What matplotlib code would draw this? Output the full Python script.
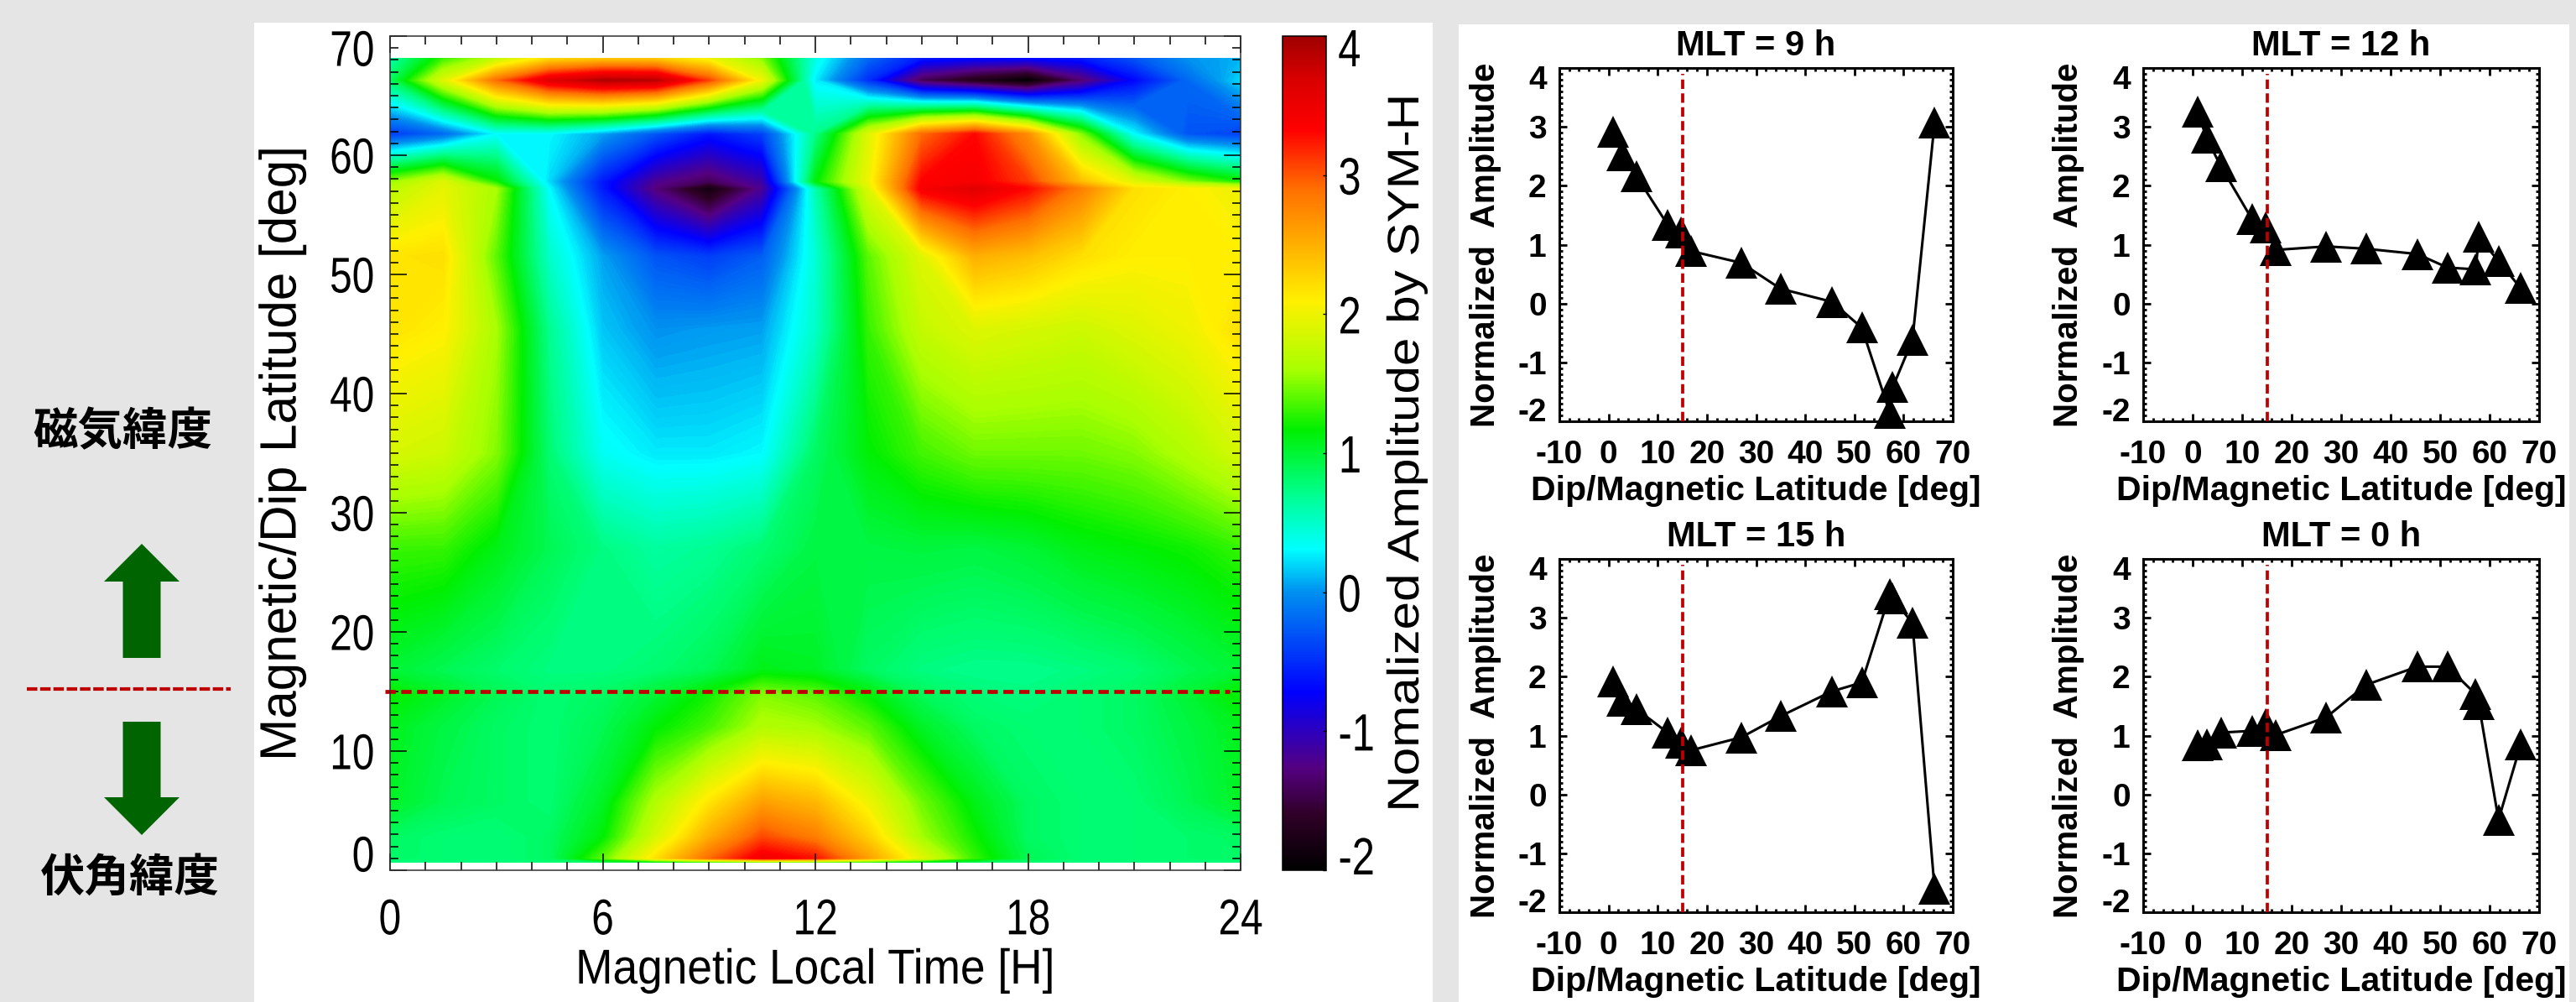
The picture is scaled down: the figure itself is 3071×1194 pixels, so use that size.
import numpy as np
from matplotlib import pyplot as plt
from matplotlib.cm import ScalarMappable
from matplotlib.colors import LinearSegmentedColormap, Normalize
from matplotlib.patches import Polygon, Rectangle
from matplotlib.patheffects import AbstractPathEffect
from matplotlib.transforms import Affine2D, ScaledTranslation

plt.rcParams['axes.unicode_minus'] = False

W, H = 3071, 1194

# station latitudes, same for the heat map rows and the four line panels
lat = [1.0, 2.8, 5.7, 12.0, 14.8, 16.8, 27.0, 35.0, 45.4, 51.5, 57.2, 57.8, 61.8, 66.3]

amp_9 = [2.91, 2.52, 2.16, 1.34, 1.21, 0.89, 0.69, 0.25, 0.03, -0.41, -1.86, -1.42, -0.62, 3.07]
amp_12 = [3.26, 2.81, 2.33, 1.43, 1.29, 0.91, 0.97, 0.93, 0.84, 0.61, 0.58, 1.13, 0.72, 0.26]
amp_15 = [1.92, 1.59, 1.45, 1.05, 0.88, 0.75, 0.97, 1.33, 1.75, 1.90, 3.40, 3.33, 2.91, -1.60]
amp_0 = [0.84, 0.85, 1.05, 1.08, 1.19, 1.01, 1.31, 1.86, 2.17, 2.17, 1.70, 1.54, -0.43, 0.85]

# heat map table, rows from south to north
mlt = [0, 1.5, 3, 4.5, 6, 7.5, 9, 10.5, 12, 13.5, 15, 16.5, 18, 19.5, 21, 22.5, 24]
map_lat = [0.65] + lat + [68.15]
row_065 = [0.75, 0.75, 0.75, 0.78, 0.85, 1.0, 1.1, 1.2, 1.2, 1.1, 1.0, 0.85, 0.78, 0.75, 0.75, 0.75, 0.75]
row_010 = [0.84, 0.80, 0.78, 0.85, 1.40, 2.20, 2.91, 3.45, 3.26, 2.60, 1.92, 1.30, 0.90, 0.80, 0.80, 0.82, 0.84]
row_028 = [0.85, 0.80, 0.78, 0.85, 1.15, 1.85, 2.52, 3.05, 2.81, 2.30, 1.59, 1.20, 0.85, 0.80, 0.80, 0.82, 0.85]
row_057 = [1.05, 0.90, 0.85, 0.80, 1.05, 1.65, 2.16, 2.60, 2.45, 2.00, 1.45, 1.10, 0.85, 0.80, 0.80, 0.90, 1.05]
row_120 = [1.08, 0.95, 0.85, 0.80, 0.90, 1.15, 1.34, 1.65, 1.60, 1.40, 1.05, 0.85, 0.80, 0.80, 0.85, 0.95, 1.08]
row_148 = [1.19, 1.05, 0.90, 0.80, 0.85, 1.00, 1.21, 1.50, 1.40, 1.15, 0.88, 0.78, 0.75, 0.80, 0.85, 1.00, 1.20]
row_168 = [1.00, 0.90, 0.82, 0.75, 0.75, 0.80, 0.89, 1.10, 1.05, 0.85, 0.75, 0.72, 0.72, 0.75, 0.80, 0.90, 1.00]
row_270 = [1.31, 1.30, 1.10, 0.90, 0.75, 0.65, 0.69, 0.80, 0.95, 0.95, 0.97, 0.95, 1.00, 1.10, 1.15, 1.20, 1.30]
row_350 = [1.86, 1.80, 1.50, 0.80, 0.35, 0.25, 0.25, 0.30, 0.85, 1.15, 1.33, 1.45, 1.45, 1.45, 1.50, 1.65, 1.85]
row_454 = [2.17, 2.10, 1.60, 0.70, 0.15, 0.00, 0.03, 0.05, 0.50, 1.30, 1.75, 1.90, 1.85, 1.80, 1.90, 2.00, 2.20]
row_515 = [2.17, 2.20, 1.40, 0.50, 0.05, -0.30, -0.41, -0.25, 0.45, 1.40, 1.90, 2.50, 2.40, 2.20, 2.10, 2.10, 2.10]
row_572 = [1.70, 1.95, 1.60, 0.30, -0.60, -1.30, -1.86, -1.20, 0.58, 1.90, 3.40, 3.60, 3.30, 2.80, 2.20, 2.10, 2.00]
row_578 = [1.54, 1.90, 1.20, 0.20, -0.60, -1.20, -1.42, -1.10, 1.13, 2.00, 3.33, 3.40, 3.10, 2.40, 1.90, 1.50, 1.20]
row_618 = [-0.43, -0.20, 0.30, 0.30, 0.05, -0.30, -0.62, -0.40, 0.72, 1.90, 2.91, 3.30, 2.70, 1.50, 0.30, -0.30, -0.40]
row_663 = [0.85, 1.90, 2.90, 3.60, 3.90, 3.85, 3.07, 2.00, 0.26, -0.50, -1.45, -1.75, -2.00, -1.35, -0.70, -0.20, 0.20]
row_682 = [0.60, 1.30, 1.70, 2.20, 2.30, 2.30, 2.00, 1.50, 0.40, -0.20, -0.60, -0.70, -0.70, -0.60, -0.30, 0.00, 0.10]
amp_map = [row_065, row_010, row_028, row_057, row_120, row_148, row_168, row_270, row_350,
           row_454, row_515, row_572, row_578, row_618, row_663, row_682]

# colour bar stops, value then colour
cmap_values = [-2, -1.6, -1.27, -0.72, 0, 0.31, 0.7, 1.17, 1.6, 2.1, 2.9, 3.33, 3.7, 4]
cmap_colors = ['#000000', '#300028', '#550080', '#0000ff', '#0090f0', '#00ffff', '#00ff90',
               '#00f000', '#a8ff00', '#fff000', '#ff7000', '#ff0000', '#d80000', '#a00000']

panels = [('MLT = 9 h', amp_9, 1859, 81, 2328, 502),
          ('MLT = 12 h', amp_12, 2555, 81, 3027, 502),
          ('MLT = 15 h', amp_15, 1859, 666, 2328, 1087),
          ('MLT = 0 h', amp_0, 2555, 666, 3027, 1087)]

RED = '#c00000'
GREEN = '#006400'
SANS = 'Liberation Sans'


class Stretch(AbstractPathEffect):
    # the original text is squeezed or widened along its own direction
    def __init__(self, sx=1.0, sy=1.0, anchor=0.5):
        super().__init__()
        self.sx, self.sy, self.anchor = sx, sy, anchor

    def draw_path(self, renderer, gc, tpath, affine, rgbFace=None):
        box = tpath.get_extents()
        cx = box.x0 + self.anchor * box.width
        cy = (box.y0 + box.y1) / 2
        t = Affine2D().translate(-cx, -cy).scale(self.sx, self.sy).translate(cx, cy) + affine
        renderer.draw_path(gc, tpath, t, rgbFace)


def px_axes(fig, left, top, right, bottom):
    return fig.add_axes([left / W, 1 - bottom / H, (right - left) / W, (bottom - top) / H])


def shift_label(label, fig, dy):
    # first and last labels sit inside the axis range in the original
    label.set_transform(label.get_transform() + ScaledTranslation(0, dy / 100, fig.dpi_scale_trans))


fig = plt.figure(figsize=(W / 100, H / 100), dpi=100, facecolor='#e5e5e5')

bg = fig.add_axes([0, 0, 1, 1])
bg.set_xlim(0, W)
bg.set_ylim(H, 0)
bg.axis('off')
bg.add_patch(Rectangle((303, 27), 1405, H - 27, color='white', lw=0))
bg.add_patch(Rectangle((1739, 29), 1324, H - 29, color='white', lw=0))
bg.add_patch(Polygon([(169, 648), (214, 693), (191.5, 693), (191.5, 784), (146.5, 784), (146.5, 693), (124, 693)],
                     color=GREEN, lw=0))
bg.add_patch(Polygon([(169, 995), (214, 950), (191.5, 950), (191.5, 860), (146.5, 860), (146.5, 950), (124, 950)],
                     color=GREEN, lw=0))
bg.plot([32, 275], [821, 821], color=RED, lw=3, dashes=(3, 0.8))
bg.text(146, 515, '磁気緯度', family=['Noto Sans CJK JP', 'DejaVu Sans'], weight='bold', fontsize=38.5,
        ha='center', va='center')
bg.text(155, 1046, '伏角緯度', family=['Noto Sans CJK JP', 'DejaVu Sans'], weight='bold', fontsize=38.5,
        ha='center', va='center')

cmap = LinearSegmentedColormap.from_list(
    'sym', [((v + 2) / 6, c) for v, c in zip(cmap_values, cmap_colors)], N=512)
norm = Normalize(-2, 4)

# main map
ax = px_axes(fig, 465, 43, 1479, 1037)
ax.contourf(mlt, map_lat, np.array(amp_map), levels=np.linspace(-2, 4, 301), cmap=cmap, norm=norm,
            extend='both', antialiased=False)
ax.plot([-0.15, 23.7], [15, 15], color=RED, lw=3.4, dashes=(2.6, 1.4), clip_on=False)
ax.set_xlim(0, 24)
ax.set_ylim(0, 70)
ax.set_xticks(range(0, 25, 6))
ax.set_xticks(range(0, 25), minor=True)
ax.set_yticks(range(0, 71, 10))
ax.set_yticks(range(0, 71), minor=True)
ax.tick_params(which='major', direction='in', length=14.4, width=1.1, top=True, right=True)
ax.tick_params(which='minor', direction='in', length=7.2, width=1.1, top=True, right=True)
ax.tick_params(axis='x', which='major', pad=24)
ax.tick_params(axis='y', which='major', pad=13)
for t in ax.get_xticklabels():
    t.set_family(SANS)
    t.set_fontsize(43)
    t.set_path_effects([Stretch(sx=0.8)])
for t in ax.get_yticklabels():
    t.set_family(SANS)
    t.set_fontsize(43)
    t.set_path_effects([Stretch(sx=0.8, anchor=1)])
shift_label(ax.get_yticklabels()[0], fig, 20)
shift_label(ax.get_yticklabels()[-1], fig, -14)
for s in ax.spines.values():
    s.set_linewidth(1.1)
    s.set_color('#303030')
ax.set_xlabel('Magnetic Local Time [H]', family=SANS, fontsize=42, va='center',
              path_effects=[Stretch(sx=0.913)])
ax.xaxis.set_label_coords(0.5, -(1157 - 1037) / 994)
ax.set_ylabel('Magnetic/Dip Latitude [deg]', family=SANS, fontsize=44, va='center',
              path_effects=[Stretch(sx=0.985)])
ax.yaxis.set_label_coords((337 - 465) / 1014, 0.5)

# colour bar
cax = px_axes(fig, 1529, 43, 1581, 1037)
cb = fig.colorbar(ScalarMappable(norm=norm, cmap=cmap), cax=cax)
cb.set_ticks([-2, -1, 0, 1, 2, 3, 4])
cb.set_ticklabels(['-2', '-1', '0', '1', '2', '3', '4'])
cb.outline.set_linewidth(1.1)
cax.tick_params(direction='in', length=3, width=1, pad=10)
for t in cax.get_yticklabels():
    t.set_family(SANS)
    t.set_fontsize(45)
    t.set_path_effects([Stretch(sx=0.78, anchor=0)])
shift_label(cax.get_yticklabels()[0], fig, 18)
shift_label(cax.get_yticklabels()[-1], fig, -13)
cax.set_ylabel('Nomalized Amplitude by SYM-H', family=SANS, fontsize=38, va='center',
               path_effects=[Stretch(sx=1.14)])
cax.yaxis.set_label_coords((1677 - 1529) / 52, 0.5)

# line panels
for title, amp, left, top, right, bottom in panels:
    a = px_axes(fig, left, top, right, bottom)
    a.plot(lat, amp, color='black', lw=2.2, marker='^', ms=27, mew=0, clip_on=False, zorder=3)
    a.plot([15, 15], [-2, 3.9], color=RED, lw=2.7, dashes=(3, 1.4), zorder=4)
    a.set_xlim(-10, 70)
    a.set_ylim(-2, 4)
    a.set_xticks(range(-10, 71, 10))
    a.set_xticks(range(-10, 71, 2), minor=True)
    a.set_yticks(range(-2, 5))
    a.set_yticks(np.arange(-2, 4.01, 0.1), minor=True)
    a.tick_params(which='major', direction='in', length=6.5, width=2, top=True, right=True)
    a.tick_params(which='minor', direction='in', length=3.2, width=2, top=True, right=True)
    a.tick_params(axis='x', which='major', pad=16)
    a.tick_params(axis='y', which='major', pad=11)
    for t in a.get_xticklabels() + a.get_yticklabels():
        t.set_family(SANS)
        t.set_weight('bold')
        t.set_fontsize(28)
    shift_label(a.get_yticklabels()[0], fig, 14)
    shift_label(a.get_yticklabels()[-1], fig, -11)
    for s in a.spines.values():
        s.set_linewidth(2.2)
    a.set_title(title, family=SANS, weight='bold', fontsize=30, pad=11)
    a.set_xlabel('Dip/Magnetic Latitude [deg]', family=SANS, weight='bold', fontsize=29.5, va='center')
    a.xaxis.set_label_coords(0.5, -83 / 421)
    a.set_ylabel('Normalized  Amplitude', family=SANS, weight='bold', fontsize=29, va='center')
    a.yaxis.set_label_coords(-88 / 469, 0.5)

fig.savefig('out.png', dpi=100, facecolor=fig.get_facecolor())
